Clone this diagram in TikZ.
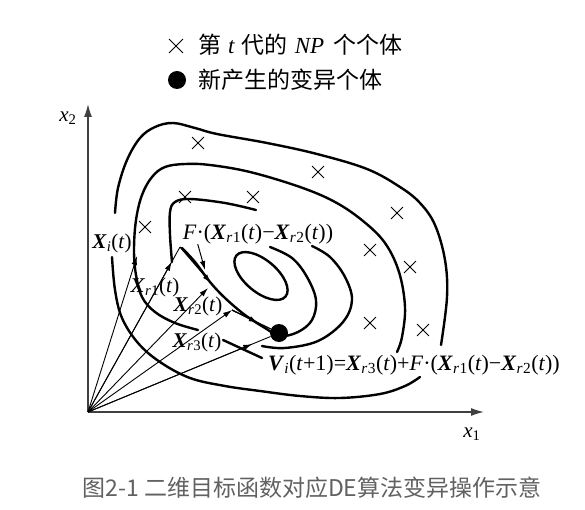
\documentclass[tikz,border=0pt]{standalone}
\usepackage{fontspec}
\setmainfont{Liberation Serif}
\newfontfamily\cjk{Noto Sans CJK SC}
\usetikzlibrary{arrows.meta,shapes.misc,calc}
\newcommand\vX{\textbf{\textit{X}}}
\newcommand\vsub[1]{\textsubscript{\textit{#1}}}
\begin{document}
\begin{tikzpicture}[x=1pt,y=-1pt,
  contour/.style={line width=2.4pt,line cap=round},
  vec/.style={line width=0.9pt},
  tip/.style={-{Latex[length=9pt,width=5.5pt]}},
  crossmark/.style={draw,cross out,line width=0.9pt,minimum size=11pt,inner sep=0pt},
  lbl/.style={font=\fontsize{21}{23}\selectfont,inner sep=0pt},
  biglbl/.style={font=\fontsize{22}{24}\selectfont,inner sep=0pt},
  leg/.style={font=\fontsize{23}{25}\selectfont,inner sep=0pt,anchor=west},
  axis/.style={line width=1.4pt,draw=black!75,-{Latex[length=13pt,width=8pt]}}]
\useasboundingbox (0,0) rectangle (585,510);
% legend
\node[crossmark,minimum size=13pt] (lc) at (176,46) {};
\node[leg] (lt) at (198,45) {{\cjk 第}\hspace{0.3em}\textit{t}\hspace{0.3em}{\cjk 代的}\hspace{0.3em}\textit{NP}\hspace{0.4em}{\cjk 个个体}};
\node[circle,fill,minimum size=18pt,inner sep=0pt] (ld) at (177,80) {};
\node[leg] (lt2) at (198,80) {\cjk 新产生的变异个体};
% axes
\coordinate (O) at (88,412);
\coordinate (Ytip) at (88,104);
\coordinate (Xtip) at (484,412);
\draw[axis] (O) -- (Ytip);
\draw[axis] (O) -- (Xtip);
\node[lbl] (x2) at (68,118) {\textit{x}\textsubscript{2}};
\node[lbl] (x1) at (472,434) {\textit{x}\textsubscript{1}};
% contours
\draw[contour] plot[smooth,tension=0.6] coordinates {(115,213) (118,188) (127,160) (140,138) (155,127) (173,123) (195,128) (217,134) (267,143) (317,154) (367,169) (400,187) (420,203) (435,225) (445,260) (447,297) (441,345)};
\draw[contour] plot[smooth,tension=0.6] coordinates {(112,257) (115,290) (122,318) (138,343) (160,362) (190,378) (225,386) (260,391) (300,396) (340,398) (380,394) (405,386) (420,377)};
\draw[contour] plot[smooth,tension=0.6] coordinates {(198,330) (175,323) (155,312) (142,297) (136,275) (134,250) (136,220) (142,195) (152,177) (165,167) (185,164) (210,165) (250,172) (300,187) (335,202) (363,221) (385,243) (399,272) (405,307) (402,337) (397,352)};
\draw[contour] (223,340) -- (262,358);
\draw[contour] plot[smooth,tension=0.6] coordinates {(172,262) (170,235) (170,212) (175,202) (190,199) (225,203) (256,210)};
\draw[contour] plot[smooth,tension=0.6] coordinates {(312,246) (330,257) (345,277) (352,300) (343,322) (318,341) (285,348) (262,346)};
\draw[contour] plot[smooth,tension=0.6] coordinates {(182,248) (195,262) (210,282) (225,298) (245,315) (265,328) (280,336) (298,332) (312,320) (316,300) (307,277) (292,258) (270,247)};
\draw[contour,rotate around={-40:(261,276)}] (261,276) ellipse [x radius=32pt,y radius=16pt];
% population crosses
\foreach \n/\p in {1/{(198,143)},2/{(318,172)},3/{(185,197)},4/{(253,197)},5/{(145,227)},6/{(397,213)},7/{(370,250)},8/{(410,267)},9/{(370,323)},10/{(423,330)}}
  \node[crossmark] (c\n) at \p {};
% vector points
\coordinate (Pi) at (137,256);
\coordinate (P1) at (180,247);
\coordinate (P2) at (208,288);
\coordinate (P3) at (232,310);
\node[circle,fill,minimum size=18pt,inner sep=0pt] (PV) at (279,333) {};
\draw[vec,tip] (O) -- (Pi);
\draw[vec] (O) -- (P1);
\draw[vec,tip] (O) -- ($(O)!0.91!(P1)$);
\draw[vec,tip] (O) -- (P2);
\draw[vec,tip] (O) -- (P3);
\draw[vec] (O) -- (PV);
\draw[vec,tip] (O) -- ($(O)!0.86!(PV)$);
% difference and scaled difference vectors
\draw[line width=1.2pt,tip] (P1) -- (211,283);
\draw[line width=1.2pt] (P3) -- (PV);
\draw[line width=1.2pt,tip] (P3) -- ($(P3)!0.55!(PV)$);
% labels
\node[lbl] (Li) at (112,243) {\vX\vsub{i}(\textit{t})};
\node[lbl] (L1) at (155,287) {\vX\vsub{r}\textsubscript{1}(\textit{t})};
\node[lbl] (L2) at (198,306) {\vX\vsub{r}\textsubscript{2}(\textit{t})};
\node[lbl] (L3) at (197,342) {\vX\vsub{r}\textsubscript{3}(\textit{t})};
\node[biglbl] (LF) at (258,234) {\textit{F}·(\vX\vsub{r}\textsubscript{1}(\textit{t})−\vX\vsub{r}\textsubscript{2}(\textit{t}))};
\node[biglbl] (LV) at (414,365) {\textbf{\textit{V}}\vsub{i}(\textit{t}+1)=\vX\vsub{r}\textsubscript{3}(\textit{t})+\textit{F}·(\vX\vsub{r}\textsubscript{1}(\textit{t})−\vX\vsub{r}\textsubscript{2}(\textit{t}))};
\draw[line width=1pt,tip] (LF.south west) ++(15,0) coordinate (lfa) -- (205,270);
% caption
\node[inner sep=0pt,text=black!62,font=\cjk\fontsize{23}{26}\selectfont] (cap) at (312,488) {图2-1 二维目标函数对应DE算法变异操作示意};
\end{tikzpicture}
\end{document}
